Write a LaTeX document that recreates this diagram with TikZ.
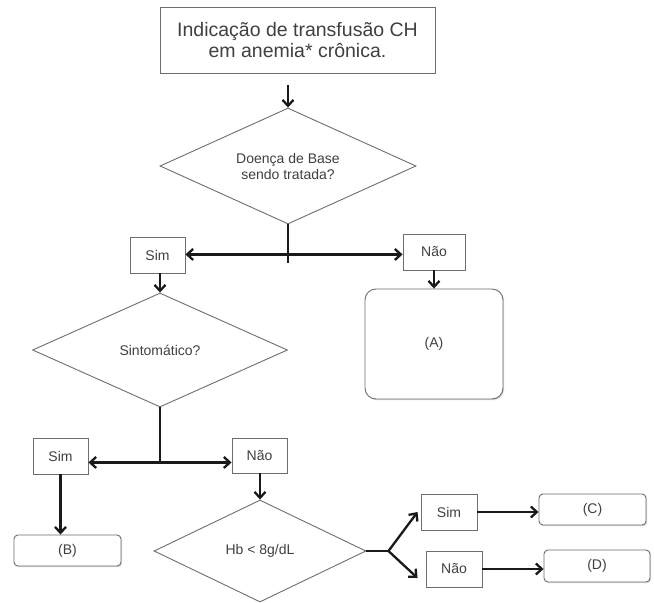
\documentclass[tikz,border=0pt]{standalone}
\usepackage{fontspec}
\setmainfont{Liberation Sans}
\usetikzlibrary{shapes.geometric,arrows.meta,shadows}
\definecolor{bordergray}{HTML}{6E6E6E}
\definecolor{textgray}{HTML}{404040}
\definecolor{arrowblack}{HTML}{1A1A1A}
\tikzset{
  base/.style={draw=bordergray, line width=0.9pt, text=textgray, inner sep=0pt, align=center,
    font=\fontsize{14}{16}\selectfont, fill=white},
  shad/.style={drop shadow={shadow xshift=1.2pt, shadow yshift=-1.2pt, opacity=0.25, fill=black!60}},
  box/.style={base, rectangle, shad},
  rbox/.style={base, rectangle, rounded corners=4pt, shad},
  bigrbox/.style={base, rectangle, rounded corners=11pt, shad},
  decision/.style={base, diamond, aspect=2.2},
  arr/.style={draw=arrowblack, line width=2.3pt, -{Straight Barb[length=6pt,width=11pt]}},
  ln/.style={draw=arrowblack, line width=2.3pt},
}
\begin{document}
\begin{tikzpicture}[x=1pt,y=-1pt]
\useasboundingbox (0,0) rectangle (654,603);
\fill[white] (0,0) rectangle (654,603);

\node[box, minimum width=275pt, minimum height=66pt, font=\fontsize{19.5}{21.5}\selectfont] (top) at (297.5,40)
  {Indicação de transfusão CH\\em anemia* crônica.};
\node[decision, minimum width=256pt, minimum height=116pt] (d1) at (288,166) {Doença de Base\\sendo tratada?};
\node[box, minimum width=55pt, minimum height=36pt] (sim1) at (157.5,255) {Sim};
\node[box, minimum width=62pt, minimum height=36pt] (nao1) at (434,252) {Não};
\node[bigrbox, minimum width=138pt, minimum height=110pt] (A) at (434,344) {(A)};
\node[decision, minimum width=255pt, minimum height=114pt] (d2) at (160,350) {Sintomático?};
\node[box, minimum width=55pt, minimum height=36pt] (sim2) at (60.5,456) {Sim};
\node[box, minimum width=55pt, minimum height=35pt] (nao2) at (259.5,455.5) {Não};
\node[rbox, minimum width=107pt, minimum height=31pt] (B) at (67.5,550.5) {(B)};
\node[decision, minimum width=212pt, minimum height=102pt] (d3) at (260,551) {Hb < 8g/dL};
\node[box, minimum width=56pt, minimum height=36pt] (sim3) at (449,512) {Sim};
\node[box, minimum width=56pt, minimum height=36pt] (nao3) at (454,569) {Não};
\node[rbox, minimum width=107pt, minimum height=31pt] (C) at (592.5,509.5) {(C)};
\node[rbox, minimum width=106pt, minimum height=32pt] (D) at (597,566) {(D)};

% connectors
\draw[arr, shorten <=12pt] (d1.north |- top.south) -- (d1.north);

\coordinate (j1) at ([yshift=-30pt]d1.south);
\draw[ln] (d1.south) -- ([yshift=-39pt]d1.south);
\draw[arr] (j1) -- (j1 -| sim1.east);
\draw[arr] (j1) -- (j1 -| nao1.west);

\draw[arr] (d2.north |- sim1.south) -- (d2.north);
\draw[arr] (A.north |- nao1.south) -- (A.north);

\coordinate (j2) at ([yshift=-55pt]d2.south);
\draw[ln] (d2.south) -- (j2);
\draw[arr] (j2) -- (j2 -| sim2.east);
\draw[arr] (j2) -- (j2 -| nao2.west);

\draw[arr] (sim2.south) -- (sim2.south |- B.north);
\draw[arr] (d3.north |- nao2.south) -- (d3.north);

\coordinate (j3) at ([xshift=22pt]d3.east);
\draw[ln] (d3.east) -- (j3);
\draw[arr] (j3) -- ([xshift=-3pt]sim3.west);
\draw[arr] (j3) -- ([xshift=-8pt,yshift=-9pt]nao3.west);

\draw[arr] (sim3.east) -- (sim3.east -| C.west);
\draw[arr] (nao3.east) -- (nao3.east -| D.west);
\end{tikzpicture}
\end{document}
